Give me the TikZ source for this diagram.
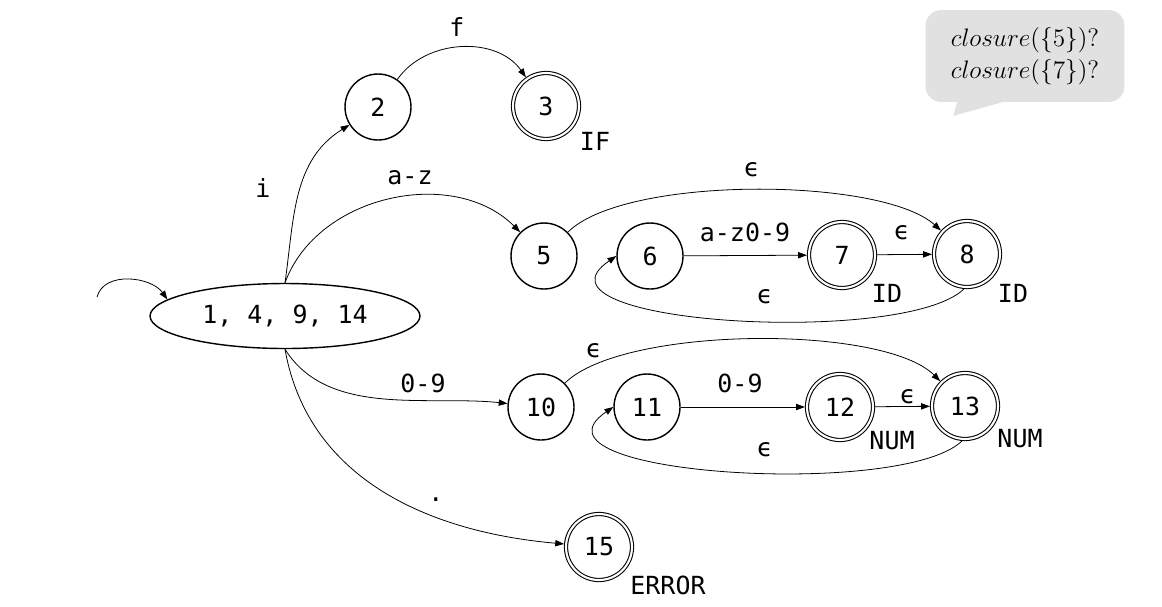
\documentclass[tikz,border=0pt]{standalone}
\usepackage{fontspec}
\setmonofont{DejaVu Sans Mono}
\newfontfamily\epsfont{DejaVu Sans}
\usepackage{tikz}
\usetikzlibrary{shapes.geometric, arrows.meta, positioning}
\definecolor{bubble}{HTML}{E1E1E1}
\newcommand{\eps}{{\epsfont ϵ}}

\begin{document}
\begin{tikzpicture}[
  x=0.02cm, y=0.02cm,
  font=\ttfamily\fontsize{14.2}{16}\selectfont,
  nfastate/.style={draw, circle, line width=0.8pt, minimum size=1.32cm, inner sep=0pt},
  accstate/.style={nfastate, double, line width=0.6pt, double distance=1.2pt, outer sep=1.2pt},
  startset/.style={draw, ellipse, line width=0.8pt, minimum width=5.4cm, minimum height=1.3cm, inner sep=0pt},
  arr/.style={-{Triangle[length=5pt, width=3.6pt]}, line width=0.45pt},
  lbl/.style={inner sep=1pt},
  bubblebox/.style={fill=bubble, rounded corners=9pt, minimum width=3.98cm, minimum height=1.84cm, align=center, font=\fontsize{15.3}{18.5}\selectfont},
]
\useasboundingbox (0,0) rectangle (1162,-606);

\node[startset] (start) at (285,-316) {1, 4, 9, 14};
\node[nfastate] (s2) at (378,-107) {2};
\node[accstate] (s3) at (546,-106) {3};
\node[nfastate] (s5) at (544,-256) {5};
\node[nfastate] (s6) at (650,-256) {6};
\node[accstate] (s7) at (842,-255) {7};
\node[accstate] (s8) at (967,-254) {8};
\node[nfastate] (s10) at (541,-407) {10};
\node[nfastate] (s11) at (647,-407) {11};
\node[accstate] (s12) at (840,-407) {12};
\node[accstate] (s13) at (965,-406) {13};
\node[accstate] (s15) at (599,-547) {15};

% token names
\node[lbl] (tif) at (595,-141) {IF};
\node[lbl] (tid7) at (887,-293) {ID};
\node[lbl] (tid8) at (1013,-293) {ID};
\node[lbl] (tnum12) at (892,-441) {NUM};
\node[lbl] (tnum13) at (1020,-439) {NUM};
\node[lbl] (terr) at (668,-585) {ERROR};

% edge labels
\node[lbl] (lf) at (457,-27) {f};
\node[lbl] (li) at (263,-188) {i};
\node[lbl] (laz) at (410,-178) {a-z};
\node[lbl] (leps58) at (752,-170) {\eps};
\node[lbl] (lazd) at (745,-232) {a-z0-9};
\node[lbl] (leps78) at (902,-233) {\eps};
\node[lbl] (leps86) at (765,-297) {\eps};
\node[lbl] (ldig) at (423,-383) {0-9};
\node[lbl] (leps1013) at (594,-351) {\eps};
\node[lbl] (ldig2) at (740,-383) {0-9};
\node[lbl] (leps1213) at (908,-397) {\eps};
\node[lbl] (leps1311) at (765,-450) {\eps};
\node[lbl] (ldot) at (436,-500) {.};

\coordinate (init) at (97,-297);
\draw[arr] (init) to[out=75, in=125] (start.172);

\draw[arr] (start.north) to[out=82, in=212] (s2);
\draw[arr] (s2) to[out=55, in=125] (s3);
\draw[arr] (start.north) to[out=70, in=135] (s5);
\draw[arr] (s5) to[out=45, in=138, looseness=0.55] (s8);
\draw[arr] (s8.265) .. controls +(-60,-58) and +(-100,-68) .. (s6.west);
\draw[arr] (start.south) to[out=-58, in=174, looseness=0.9] (s10);
\draw[arr] (s10) to[out=45, in=135, looseness=0.55] (s13);
\draw[arr] (s13.265) .. controls +(-60,-58) and +(-100,-68) .. (s11.west);
\draw[arr] (start.south) to[out=-80, in=175] (s15);

\foreach \i/\j in {s6/s7, s7/s8, s11/s12, s12/s13}
  \draw[arr] (\i) -- (\j);

% question bubble
\node[bubblebox] (ask) at (1025,-56) {$closure(\{5\})?$\\$closure(\{7\})?$};
\fill[bubble] (958,-100) -- (953,-116) -- (1010,-100) -- cycle;

\end{tikzpicture}
\end{document}
